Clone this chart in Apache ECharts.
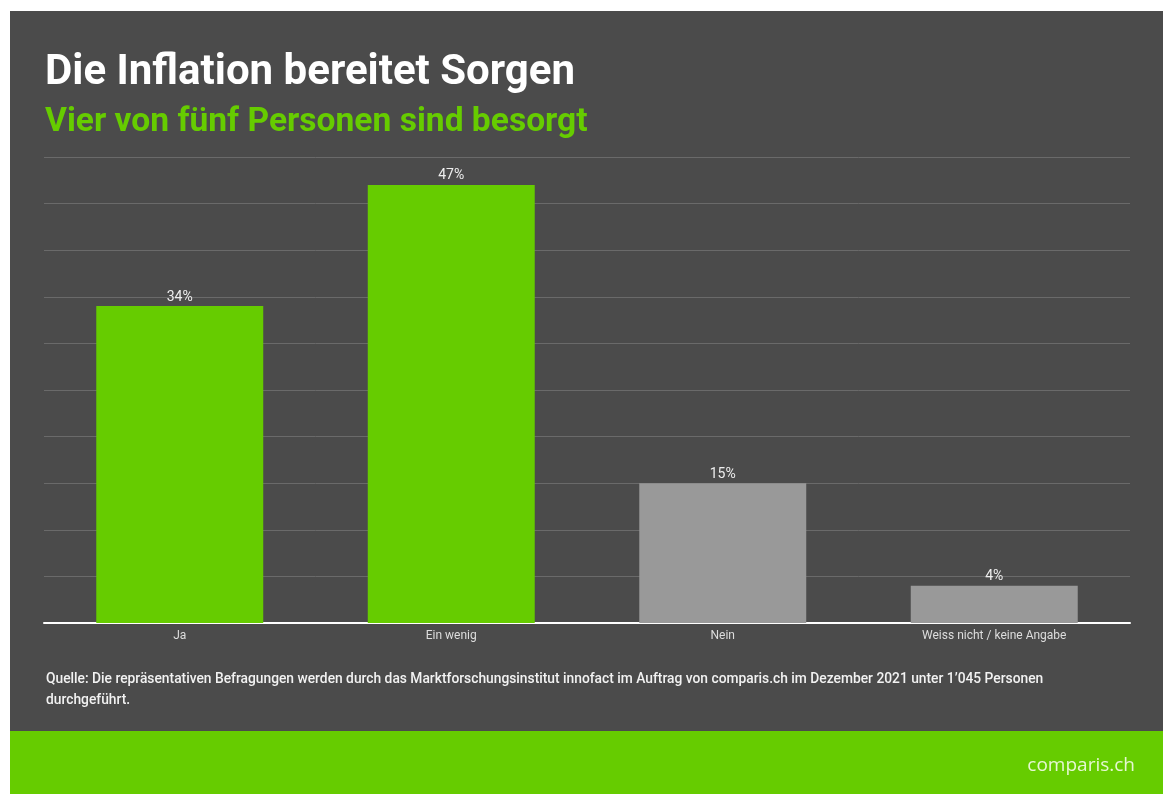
<!DOCTYPE html>
<html>
<head>
<meta charset="utf-8">
<script src="https://cdn.jsdelivr.net/npm/echarts@6/dist/echarts.min.js"></script>
<style>
html,body{margin:0;padding:0;background:#ffffff;}
#c{width:1163px;height:794px;}
</style>
</head>
<body>
<div id="c"></div>
<script>
const categories = ['Ja', 'Ein wenig', 'Nein', 'Weiss nicht / keine Angabe'];
const values = [34, 47, 15, 4];
const barColors = ['#66cc00', '#66cc00', '#999999', '#999999'];
const yTicks = [0, 5, 10, 15, 20, 25, 30, 35, 40, 45, 50];

const titleText = 'Die Inflation bereitet Sorgen';
const subtitleText = 'Vier von fünf Personen sind besorgt';
const sourceLine1 = 'Quelle: Die repräsentativen Befragungen werden durch das Marktforschungsinstitut innofact im Auftrag von comparis.ch im Dezember 2021 unter 1’045 Personen';
const sourceLine2 = 'durchgeführt.';
const logoText = 'comparis.ch';

const chart = echarts.init(document.getElementById('c'), null, {renderer: 'canvas'});
chart.setOption({
  backgroundColor: '#ffffff',
  animation: false,
  graphic: [
    {type: 'rect', shape: {x: 10, y: 11, width: 1153, height: 720}, style: {fill: '#4b4b4b'}, z: -10},
    {type: 'rect', shape: {x: 10, y: 731, width: 1153, height: 63}, style: {fill: '#66cc00'}, z: -10},
    {type: 'text', left: 45, top: 52, style: {text: titleText, fill: '#ffffff', font: 'bold 42px Roboto'}},
    {type: 'text', left: 45, top: 106, style: {text: subtitleText, fill: '#66cc00', font: 'bold 33.6px Roboto'}},
    {type: 'text', left: 46, top: 673, style: {text: sourceLine1, fill: '#f2f2f2', font: '500 13.8px Roboto'}},
    {type: 'text', left: 46, top: 694, style: {text: sourceLine2, fill: '#f2f2f2', font: '500 13.8px Roboto'}},
    {type: 'text', right: 28, top: 756, style: {text: logoText, fill: '#e6f7d2', font: '19px "Open Sans"'}}
  ],
  grid: {left: 44, right: 33, top: 157, bottom: 171, containLabel: false},
  xAxis: {
    type: 'category',
    data: categories,
    axisLine: {show: true, lineStyle: {color: '#ffffff', width: 2}},
    axisTick: {show: false},
    axisLabel: {color: '#dddddd', fontSize: 12, fontFamily: 'Roboto', margin: 7}
  },
  yAxis: {
    type: 'value',
    min: yTicks[0],
    max: yTicks[yTicks.length - 1],
    interval: 5,
    axisLine: {show: false},
    axisTick: {show: false},
    axisLabel: {show: false},
    splitLine: {lineStyle: {color: '#6a6a6a', width: 1}}
  },
  series: [{
    type: 'bar',
    data: values.map((v, i) => ({value: v, itemStyle: {color: barColors[i]}})),
    barWidth: '61.5%',
    label: {
      show: true,
      position: 'top',
      distance: 2,
      formatter: '{c}%',
      color: '#eeeeee',
      fontSize: 14,
      fontFamily: 'Roboto'
    }
  }]
});
</script>
</body>
</html>
